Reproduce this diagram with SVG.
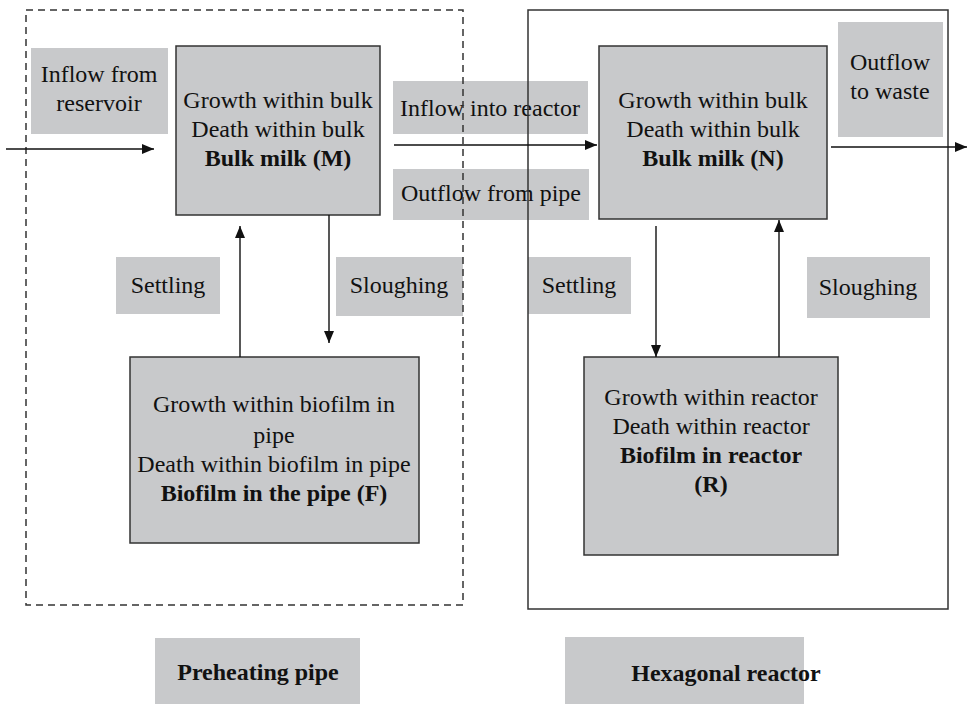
<svg xmlns="http://www.w3.org/2000/svg" width="967" height="704" viewBox="0 0 967 704">
<style>
.box{fill:#c8c9cb;stroke:#333;stroke-width:1.5}
.lbl{fill:#c8c9cb;stroke:none}
text{font-family:"Liberation Serif","Times New Roman",serif;font-size:24px;fill:#111;text-anchor:middle}
.b{font-weight:bold}
.con{stroke:#111;stroke-width:1.4;fill:none}
</style>
<defs>
<marker id="ah" markerUnits="userSpaceOnUse" markerWidth="12" markerHeight="10" refX="12" refY="5" orient="auto">
<path d="M0,0 L12,5 L0,10 z" fill="#111"/>
</marker>
</defs>
<rect width="967" height="704" fill="#fff"/>
<g id="labels">
<g id="lbl-inflow-res"><rect class="lbl" x="31" y="48" width="137" height="86"/><text x="99" y="82">Inflow from</text><text x="99" y="111">reservoir</text></g>
<g id="lbl-inflow-reactor"><rect class="lbl" x="393" y="81" width="195" height="53"/><text x="490" y="116">Inflow into reactor</text></g>
<g id="lbl-outflow-pipe"><rect class="lbl" x="393" y="169" width="196" height="51"/><text x="491" y="201">Outflow from pipe</text></g>
<g id="lbl-settling-l"><rect class="lbl" x="116" y="257" width="104" height="57"/><text x="168" y="293">Settling</text></g>
<g id="lbl-sloughing-l"><rect class="lbl" x="336" y="257" width="127" height="59"/><text x="399" y="293">Sloughing</text></g>
<g id="lbl-outflow-waste"><rect class="lbl" x="838" y="22" width="105" height="115"/><text x="890" y="70">Outflow</text><text x="890" y="99">to waste</text></g>
<g id="lbl-settling-r"><rect class="lbl" x="528" y="257" width="103" height="57"/><text x="579" y="293">Settling</text></g>
<g id="lbl-sloughing-r"><rect class="lbl" x="807" y="257" width="123" height="61"/><text x="868" y="295">Sloughing</text></g>
<g id="lbl-preheating"><rect class="lbl" x="155" y="638" width="205" height="66"/><text class="b" x="258" y="680">Preheating pipe</text></g>
<g id="lbl-hexagonal"><rect class="lbl" x="565" y="637" width="239" height="67"/><text class="b" x="726" y="681">Hexagonal reactor</text></g>
</g>
<g id="containers">
<rect id="preheating-pipe" x="26" y="10" width="437" height="595" fill="none" stroke="#333" stroke-width="1.5" stroke-dasharray="7,5"/>
<rect id="hexagonal-reactor" x="528" y="10" width="420" height="599" fill="none" stroke="#333" stroke-width="1.5"/>
</g>
<g id="node-M"><rect class="box" x="176" y="46" width="204" height="169"/><text x="278" y="108">Growth within bulk</text><text x="278" y="137">Death within bulk</text><text class="b" x="278" y="166">Bulk milk (M)</text></g>
<g id="node-F"><rect class="box" x="130" y="357" width="289" height="186"/><text x="274" y="412">Growth within biofilm in</text><text x="274" y="443">pipe</text><text x="274" y="472">Death within biofilm in pipe</text><text class="b" x="274" y="501">Biofilm in the pipe (F)</text></g>
<g id="node-N"><rect class="box" x="599" y="46" width="228" height="173"/><text x="713" y="108">Growth within bulk</text><text x="713" y="137">Death within bulk</text><text class="b" x="713" y="166">Bulk milk (N)</text></g>
<g id="node-R"><rect class="box" x="584" y="357" width="254" height="198"/><text x="711" y="405">Growth within reactor</text><text x="711" y="434">Death within reactor</text><text class="b" x="711" y="463">Biofilm in reactor</text><text class="b" x="711" y="492">(R)</text></g>
<g id="connectors">
<line class="con" x1="6" y1="149" x2="154" y2="149" marker-end="url(#ah)"/>
<line class="con" x1="394" y1="145" x2="597" y2="145" marker-end="url(#ah)"/>
<line class="con" x1="831" y1="147" x2="967" y2="147" marker-end="url(#ah)"/>
<line class="con" x1="240" y1="357" x2="240" y2="226" marker-end="url(#ah)"/>
<line class="con" x1="329" y1="215" x2="329" y2="343" marker-end="url(#ah)"/>
<line class="con" x1="656" y1="226" x2="656" y2="357" marker-end="url(#ah)"/>
<line class="con" x1="779" y1="357" x2="779" y2="220" marker-end="url(#ah)"/>
</g>
</svg>
